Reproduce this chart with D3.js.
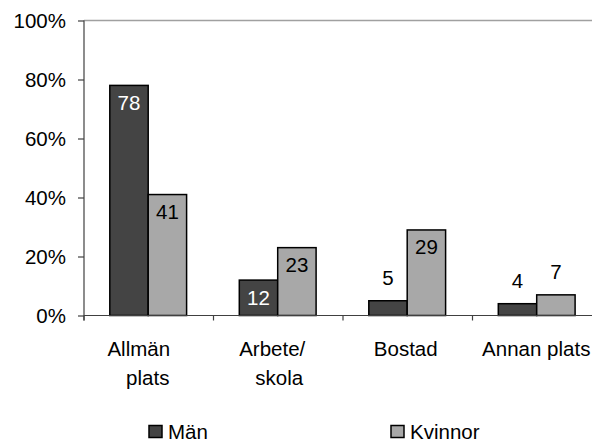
<!DOCTYPE html>
<html><head><meta charset="utf-8">
<script src="https://cdn.jsdelivr.net/npm/d3@7"></script>
<style>
html,body{margin:0;padding:0;background:#fff;}
svg{display:block;font-family:"Liberation Sans",Arial,Helvetica,sans-serif;}
</style></head>
<body><svg id="chart" width="592" height="441"></svg>
<script>
const categories = [["Allmän","plats"],["Arbete/","skola"],["Bostad"],["Annan plats"]];
const seriesNames = ["Män","Kvinnor"];
const man = [78,12,5,4];
const kvinnor = [41,23,29,7];
const yTicks = [0,20,40,60,80,100];
const colors = ["#444444","#a8a8a8"];
const labelColorsInside = ["#ffffff","#000000"];

(function(){
const FS = "20.5px";
const svg = d3.select("#chart");
const pLeft = 84, pRight = 602, pTop = 20.5, pBottom = 315.5;
const x0 = d3.scaleBand().domain(d3.range(categories.length)).range([pLeft,pRight]).paddingInner(0).paddingOuter(0);
const x1 = d3.scaleBand().domain([0,1]).range([25.8, 25.8+76.8]);
const y = d3.scaleLinear().domain([0,100]).range([pBottom, pTop]);

// top gridline
svg.append("line").attr("x1",pLeft).attr("x2",592).attr("y1",y(100)).attr("y2",y(100))
  .attr("stroke","#a0a0a0").attr("stroke-width",1.5);

// bars
const series = [man, kvinnor];
series.forEach((vals, si) => {
  const g = svg.append("g");
  vals.forEach((v, ci) => {
    const bx = x0(ci) + x1(si), bw = x1.bandwidth();
    g.append("rect").attr("x",bx).attr("y",y(v)).attr("width",bw).attr("height",y(0)-y(v))
      .attr("fill",colors[si]).attr("stroke","#000").attr("stroke-width",1.5);
    const inside = (y(0)-y(v)) > 30;
    g.append("text").attr("x",bx+bw/2)
      .attr("y", inside ? y(v)+24.5 : y(v)-16)
      .attr("text-anchor","middle").attr("font-size",FS)
      .attr("fill", inside ? labelColorsInside[si] : "#000").text(v);
  });
});

// y axis
const yAxis = d3.axisLeft(y).tickValues(yTicks).tickFormat(d=>d+"%").tickSize(6).tickSizeOuter(0);
const ga = svg.append("g").attr("transform",`translate(${pLeft},0)`).call(yAxis);
ga.select(".domain").remove();
ga.selectAll(".tick line").attr("stroke","#404040").attr("stroke-width",1.2);
ga.selectAll(".tick text").attr("font-size",FS).attr("fill","#000").attr("x",-18).attr("dy","0.35em")
  .attr("font-family","Liberation Sans, Arial, sans-serif");
svg.append("line").attr("x1",pLeft).attr("x2",pLeft).attr("y1",pTop).attr("y2",pBottom+5)
  .attr("stroke","#404040").attr("stroke-width",1.2);

// x axis line and ticks at category boundaries
svg.append("line").attr("x1",pLeft).attr("x2",592).attr("y1",pBottom).attr("y2",pBottom)
  .attr("stroke","#404040").attr("stroke-width",1.2);
d3.range(categories.length).forEach(i => {
  const tx = x0(i);
  svg.append("line").attr("x1",tx).attr("x2",tx).attr("y1",pBottom).attr("y2",pBottom+5)
    .attr("stroke","#404040").attr("stroke-width",1.2);
});

// category labels
const lineDx = [[-10,-1],[-6,1],[-2],[-1]];
categories.forEach((lines, i) => {
  const cx = x0(i) + x0.bandwidth()/2;
  lines.forEach((ln, li) => {
    svg.append("text").attr("x",cx + lineDx[i][li]).attr("y",356 + li*29)
      .attr("text-anchor","middle").attr("font-size",FS).attr("fill","#000").text(ln);
  });
});

// legend
const legX = [149, 391];
seriesNames.forEach((n, i) => {
  svg.append("rect").attr("x",legX[i]).attr("y",425.5).attr("width",13).attr("height",12)
    .attr("fill",colors[i]).attr("stroke","#000").attr("stroke-width",1.5);
  svg.append("text").attr("x",legX[i]+19).attr("y",438.5).attr("font-size",FS).attr("fill","#000").text(n);
});
})();
</script></body></html>
